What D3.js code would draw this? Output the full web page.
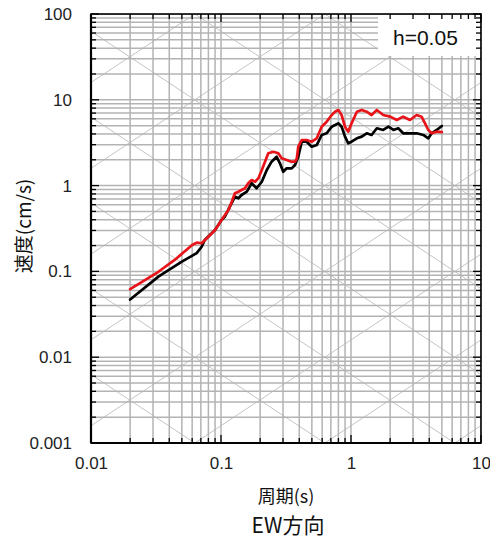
<!DOCTYPE html>
<html><head><meta charset="utf-8">
<script src="https://cdn.jsdelivr.net/npm/d3@7"></script>
<style>
html,body{margin:0;padding:0;background:#fff;}
svg{display:block;}
</style></head>
<body>
<svg id="chart" width="490" height="539"></svg>
<script>
// ---- data ----
const xTickLabels = ["0.01", "0.1", "1", "10"];
const yTickLabels = ["0.001", "0.01", "0.1", "1", "10", "100"];
const dampingLabel = "h=0.05";
const xTitle = "周期(s)";
const yTitle = "速度(cm/s)";
const chartTitle = "EW方向";

const blackT = [0.020,0.033,0.050,0.065,0.071,0.075,0.090,0.101,0.107,0.117,0.128,0.136,0.144,0.158,0.172,0.188,0.206,0.225,0.245,0.268,0.284,0.301,0.320,0.350,0.371,0.393,0.418,0.456,0.499,0.545,0.595,0.650,0.711,0.754,0.798,0.847,0.899,0.953,1.01,1.11,1.21,1.32,1.44,1.58,1.77,1.94,2.12,2.31,2.52,2.84,3.20,3.60,3.93,4.18,4.56,5.0];
const blackV = [0.047,0.087,0.130,0.163,0.194,0.232,0.304,0.397,0.434,0.568,0.743,0.711,0.777,0.849,1.064,0.931,1.11,1.52,1.90,2.17,1.82,1.45,1.59,1.59,1.74,2.17,3.25,3.25,2.84,2.97,3.89,4.07,4.86,5.08,5.32,4.86,3.72,3.11,3.25,3.56,3.72,4.07,3.89,4.66,4.45,4.86,4.45,4.66,4.07,4.07,4.07,3.89,3.56,4.07,4.45,4.95];

const redT = [0.020,0.033,0.044,0.060,0.065,0.071,0.085,0.090,0.101,0.114,0.121,0.128,0.136,0.144,0.153,0.162,0.172,0.183,0.194,0.206,0.218,0.231,0.253,0.276,0.293,0.320,0.350,0.371,0.383,0.393,0.418,0.456,0.499,0.545,0.595,0.650,0.711,0.754,0.798,0.847,0.899,0.953,1.01,1.11,1.21,1.32,1.44,1.58,1.77,2.00,2.25,2.52,2.84,3.20,3.49,3.71,3.93,4.18,4.56,5.0];
const redV = [0.062,0.099,0.136,0.203,0.216,0.213,0.278,0.304,0.397,0.520,0.649,0.813,0.849,0.889,0.931,1.064,1.16,1.11,1.22,1.52,1.90,2.38,2.48,2.38,2.08,1.99,1.90,1.90,2.08,2.84,3.40,3.40,3.25,3.56,4.86,5.56,6.65,7.26,7.60,6.65,4.86,4.25,5.32,7.26,7.60,7.26,6.65,7.60,6.65,6.36,5.82,6.36,5.82,6.65,6.36,5.32,4.45,4.07,4.25,4.21];

// ---- layout ----
const L = 91, R = 481, T = 14, B = 443;
const svg = d3.select("#chart");
const x = d3.scaleLog().domain([0.01, 10]).range([L, R]);
const y = d3.scaleLog().domain([0.001, 100]).range([B, T]);

const xMinor = [];
for (let e = -2; e < 1; e++) for (let m = 1; m <= 9; m++) xMinor.push(m * Math.pow(10, e));
xMinor.push(10);
const yMinor = [];
for (let e = -3; e < 2; e++) for (let m = 1; m <= 9; m++) yMinor.push(m * Math.pow(10, e));
yMinor.push(100);
const isMajor = v => Math.abs(Math.log10(v) - Math.round(Math.log10(v))) < 1e-9;

svg.append("defs").append("clipPath").attr("id", "plotclip")
  .append("rect").attr("x", L).attr("y", T).attr("width", R - L).attr("height", B - T);

const grid = svg.append("g").attr("clip-path", "url(#plotclip)");

// diagonal (tripartite) lines
const diag = grid.append("g").attr("stroke", "#c4c4c4").attr("stroke-width", 1).attr("fill", "none");
const line = d3.line().x(d => x(d[0])).y(d => y(d[1]));
const Tends = [0.001, 100];
for (let k = -5; k <= 5; k++) {
  const A = Math.pow(10, k);
  diag.append("path").attr("d", line(Tends.map(t => [t, A * t / (2 * Math.PI)])));
}
for (let k = -7; k <= 3; k++) {
  const D = Math.pow(10, k);
  diag.append("path").attr("d", line(Tends.map(t => [t, 2 * Math.PI * D / t])));
}

// rectangular grid
grid.append("g").selectAll("line").data(xMinor).join("line")
  .attr("x1", d => x(d)).attr("x2", d => x(d)).attr("y1", T).attr("y2", B)
  .attr("stroke", "#b3b3b3").attr("stroke-width", 1.5);
grid.append("g").selectAll("line").data(yMinor).join("line")
  .attr("y1", d => y(d)).attr("y2", d => y(d)).attr("x1", L).attr("x2", R)
  .attr("stroke", "#b3b3b3").attr("stroke-width", 1.5);

// data curves
const curves = svg.append("g").attr("clip-path", "url(#plotclip)").attr("fill", "none")
  .attr("stroke-width", 2.7).attr("stroke-linejoin", "round").attr("stroke-linecap", "round");
curves.append("path").datum(blackT.map((t, i) => [t, blackV[i]])).attr("d", line).attr("stroke", "#000");
curves.append("path").datum(redT.map((t, i) => [t, redV[i]])).attr("d", line).attr("stroke", "#e8141a");

// legend box
svg.append("rect").attr("x", 378).attr("y", 15).attr("width", R - 378 - 1).attr("height", 41).attr("fill", "#fff");
svg.append("text").attr("x", 393).attr("y", 45).attr("font-family", "Liberation Sans, Arial, sans-serif")
  .attr("font-size", 21).attr("fill", "#111").text(dampingLabel);

// ticks on all sides (inward)
const tk = svg.append("g").attr("stroke", "#000").attr("stroke-width", 1.3);
xMinor.forEach(v => {
  const len = isMajor(v) ? 8 : 5;
  tk.append("line").attr("x1", x(v)).attr("x2", x(v)).attr("y1", B).attr("y2", B - len);
  tk.append("line").attr("x1", x(v)).attr("x2", x(v)).attr("y1", T).attr("y2", T + len);
});
yMinor.forEach(v => {
  const len = isMajor(v) ? 8 : 5;
  tk.append("line").attr("y1", y(v)).attr("y2", y(v)).attr("x1", L).attr("x2", L + len);
  tk.append("line").attr("y1", y(v)).attr("y2", y(v)).attr("x1", R).attr("x2", R - len);
});

// frame
svg.append("rect").attr("x", L).attr("y", T).attr("width", R - L).attr("height", B - T)
  .attr("fill", "none").attr("stroke", "#000").attr("stroke-width", 1.6);
svg.append("line").attr("x1", L).attr("x2", L).attr("y1", T).attr("y2", B).attr("stroke", "#000").attr("stroke-width", 2.2);
svg.append("line").attr("x1", L).attr("x2", R).attr("y1", B).attr("y2", B).attr("stroke", "#000").attr("stroke-width", 2.2);

// tick labels via axes
const xAxis = d3.axisBottom(x).tickValues(xTickLabels.map(Number)).tickSize(0).tickPadding(14)
  .tickFormat((d, i) => xTickLabels[i]);
const gx = svg.append("g").attr("transform", `translate(0,${B})`).call(xAxis);
const yAxis = d3.axisLeft(y).tickValues(yTickLabels.map(Number)).tickSize(0).tickPadding(19)
  .tickFormat((d, i) => yTickLabels[i]);
const gy = svg.append("g").attr("transform", `translate(${L},0)`).call(yAxis);
[gx, gy].forEach(g => {
  g.select(".domain").remove();
  g.selectAll("text").attr("font-family", "Liberation Sans, Arial, sans-serif").attr("font-size", 17).attr("fill", "#222");
});

// titles
const jp = "Noto Sans CJK JP, sans-serif";
svg.append("text").attr("x", 286).attr("y", 503).attr("text-anchor", "middle")
  .attr("font-family", jp).attr("font-size", 18).attr("fill", "#111").text(xTitle);
svg.append("text").attr("x", 288).attr("y", 533).attr("text-anchor", "middle")
  .attr("font-family", jp).attr("font-size", 21).attr("fill", "#111").text(chartTitle);
svg.append("text").attr("transform", "translate(31,226) rotate(-90)").attr("text-anchor", "middle")
  .attr("font-family", jp).attr("font-size", 19).attr("fill", "#111").text(yTitle);
</script>
</body></html>
